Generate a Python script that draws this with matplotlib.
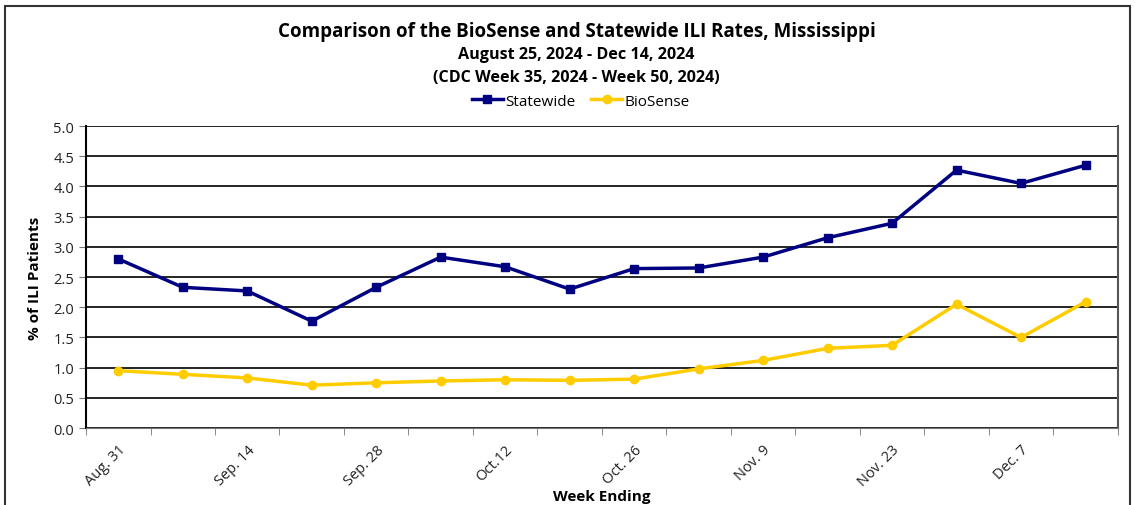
# Mississippi ILI comparison: Statewide vs BioSense

import matplotlib.pyplot as plt
from matplotlib.patches import Rectangle

weeks = ['Aug. 31', 'Sep. 7', 'Sep. 14', 'Sep. 21', 'Sep. 28', 'Oct. 5', 'Oct.12', 'Oct. 19',
         'Oct. 26', 'Nov. 2', 'Nov. 9', 'Nov. 16', 'Nov. 23', 'Nov. 30', 'Dec. 7', 'Dec. 14']
statewide = [2.80, 2.33, 2.27, 1.77, 2.33, 2.83, 2.67, 2.30,
             2.64, 2.65, 2.83, 3.15, 3.39, 4.27, 4.05, 4.35]
biosense = [0.95, 0.89, 0.83, 0.71, 0.75, 0.78, 0.80, 0.79,
            0.81, 0.98, 1.12, 1.32, 1.37, 2.05, 1.50, 2.09]

plt.rcParams['font.family'] = ['Open Sans', 'DejaVu Sans']

fig = plt.figure(figsize=(11.35, 5.06), dpi=100)
ax = fig.add_axes([0.0758, 0.152, 0.909, 0.597])

x = list(range(len(weeks)))
ax.plot(x, statewide, color='#000080', lw=2.5, marker='s', ms=6, label='Statewide')
ax.plot(x, biosense, color='#FFCC00', lw=2.5, marker='o', ms=6, label='BioSense')

ax.set_xlim(-0.5, len(weeks) - 0.5)
ax.set_ylim(0, 5)
ax.set_yticks([i * 0.5 for i in range(11)])
ax.set_yticklabels([f'{i * 0.5:.1f}' for i in range(11)], fontsize=10.5, color='#222222')
ax.yaxis.grid(True, color='black', lw=1.2)
ax.set_axisbelow(True)

# labels on every other week, tick marks between categories
ax.set_xticks(x[::2])
ax.set_xticklabels(weeks[::2], rotation=45, ha='right', rotation_mode='anchor',
                   fontsize=10.5, color='#222222')
ax.tick_params(axis='x', which='major', length=0, pad=10)
ax.set_xticks([i - 0.5 for i in range(len(weeks) + 1)], minor=True)
ax.tick_params(axis='x', which='minor', length=5, color='#777777')
ax.tick_params(axis='y', length=5, color='#777777')

ax.spines['top'].set_visible(False)
ax.spines['left'].set_color('black')
ax.spines['left'].set_linewidth(1.5)
ax.spines['right'].set_color('#555555')
ax.spines['right'].set_linewidth(1.5)
ax.spines['bottom'].set_color('#777777')

ax.set_ylabel('% of ILI Patients', fontsize=11, fontweight='bold', labelpad=8)
ax.set_xlabel('Week Ending', fontsize=11, fontweight='bold', labelpad=0)

fig.text(0.508, 0.936, 'Comparison of the BioSense and Statewide ILI Rates, Mississippi',
         ha='center', va='center', fontsize=13.5, fontweight='bold')
fig.text(0.508, 0.891, 'August 25, 2024 - Dec 14, 2024',
         ha='center', va='center', fontsize=11.6, fontweight='bold')
fig.text(0.508, 0.846, '(CDC Week 35, 2024 - Week 50, 2024)',
         ha='center', va='center', fontsize=11.6, fontweight='bold')

fig.legend(loc='center', bbox_to_anchor=(0.512, 0.798), ncol=2, frameon=False,
           fontsize=11, handlelength=2, handletextpad=0.2, columnspacing=1)

fig.patches.append(Rectangle((0.004, -0.01), 0.992, 0.996, transform=fig.transFigure,
                             fill=False, edgecolor='#333333', lw=1.5))

fig.savefig('out.png', dpi=100)
